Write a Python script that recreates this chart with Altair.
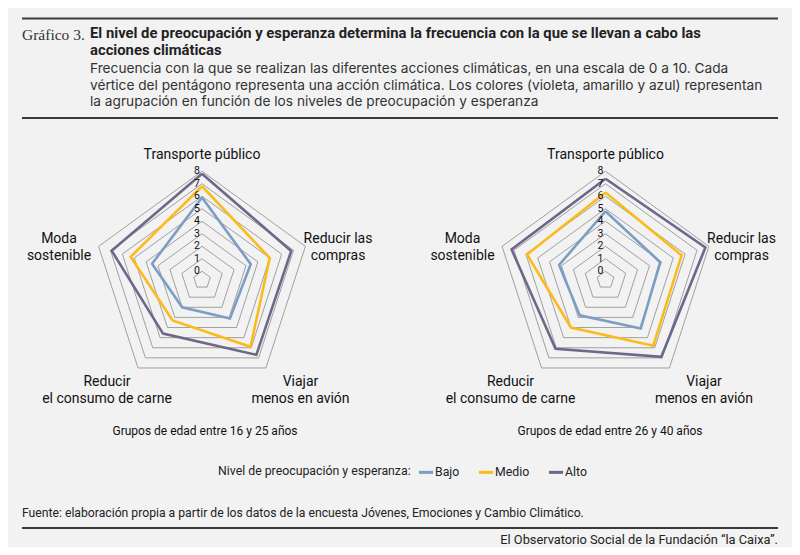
import math
import altair as alt
import pandas as pd

# ---------------- data ----------------
acciones = ["Transporte público", "Reducir las compras", "Viajar menos en avión",
            "Reducir el consumo de carne", "Moda sostenible"]
etiquetas = ["Transporte público", "Reducir las\ncompras", "Viajar\nmenos en avión",
             "Reducir\nel consumo de carne", "Moda\nsostenible"]
niveles = ["Bajo", "Medio", "Alto"]
paneles = ["Grupos de edad entre 16 y 25 años", "Grupos de edad entre 26 y 40 años"]

bajo_16_25 = [5.9, 3.4, 3.1, 2.0, 3.5]
medio_16_25 = [6.8, 5.0, 5.9, 3.3, 5.3]
alto_16_25 = [7.8, 6.8, 6.7, 4.6, 6.9]

bajo_26_40 = [4.8, 3.9, 4.1, 2.8, 3.2]
medio_26_40 = [6.3, 5.7, 5.8, 4.0, 5.9]
alto_26_40 = [7.4, 7.7, 6.9, 6.1, 7.2]

ticks = [0, 1, 2, 3, 4, 5, 6, 7, 8]

colores = ["#7d9dc4", "#fcbb1c", "#6d6889"]

titulo = ["El nivel de preocupación y esperanza determina la frecuencia con la que se llevan a cabo las",
          "acciones climáticas"]
subtitulo = ["Frecuencia con la que se realizan las diferentes acciones climáticas, en una escala de 0 a 10. Cada",
             "vértice del pentágono representa una acción climática. Los colores (violeta, amarillo y azul) representan",
             "la agrupación en función de los niveles de preocupación y esperanza"]
fuente = "Fuente: elaboración propia a partir de los datos de la encuesta Jóvenes, Emociones y Cambio Climático."
firma = "El Observatorio Social de la Fundación “la Caixa”."

# ---------------- tables ----------------
series = {
    0: {"Bajo": bajo_16_25, "Medio": medio_16_25, "Alto": alto_16_25},
    1: {"Bajo": bajo_26_40, "Medio": medio_26_40, "Alto": alto_26_40},
}
rows = []
for p in (0, 1):
    for n in niveles:
        vals = series[p][n]
        for k in range(6):
            rows.append({"p": p, "nivel": n, "k": k, "v": vals[k % 5]})
df_series = pd.DataFrame(rows)

df_rings = pd.DataFrame([{"p": p, "t": t, "k": k, "v": t}
                         for p in (0, 1) for t in ticks for k in range(6)])
df_ticks = pd.DataFrame([{"p": p, "v": t, "k": 0, "lab": str(t)} for p in (0, 1) for t in ticks])
df_labels = pd.DataFrame([{"p": p, "k": k, "lab": etiquetas[k], "accion": acciones[k],
                           "nl": etiquetas[k].count("\n") + 1}
                          for p in (0, 1) for k in range(5)])
df_panels = pd.DataFrame([{"p": p, "lab": paneles[p]} for p in (0, 1)])

# ---------------- geometry (layout) ----------------
W, H = 784, 539
xs = alt.Scale(domain=[8, 8 + W], nice=False, zero=False)
ys = alt.Scale(domain=[8, 8 + H], nice=False, zero=False, reverse=True)
X = alt.X("x:Q", scale=xs, axis=None)
Y = alt.Y("y:Q", scale=ys, axis=None)

CY = 280
UNIT = 12.5
OFF = 0.7
CX = "(datum.p == 0 ? 202 : 605.5)"


def polar(chart, rexpr):
    return chart.transform_calculate(
        ang="datum.k * 2 * PI / 5",
        cx=CX,
        r=rexpr,
    ).transform_calculate(
        x="datum.cx + datum.r * sin(datum.ang)",
        y=f"{CY} - datum.r * cos(datum.ang)",
    )


rvalue = f"(datum.v + {OFF}) * {UNIT}"

rings = polar(alt.Chart(df_rings), rvalue).mark_line(
    stroke="#8a8a8a", strokeWidth=0.8, strokeJoin="miter"
).encode(x=X, y=Y, detail=["p:N", "t:N"], order="k:Q")

lines = polar(alt.Chart(df_series), rvalue).mark_line(
    strokeWidth=2.6, strokeJoin="miter"
).encode(
    x=X, y=Y,
    color=alt.Color("nivel:N", scale=alt.Scale(domain=niveles, range=colores),
                    legend=alt.Legend(
                        title="Nivel de preocupación y esperanza:",
                        orient="none", legendX=210, legendY=455,
                        direction="horizontal", titleOrient="left", titleLimit=600,
                        symbolType="stroke", symbolStrokeWidth=3, symbolSize=200,
                        labelFont="Roboto", labelFontSize=12.3, labelColor="#222",
                        titleFont="Roboto", titleFontSize=12.3, titleFontWeight="normal",
                        titleColor="#222", titlePadding=6, labelOffset=0,
                        columnPadding=12, titleBaseline="middle", titleAnchor="middle")),
    detail="p:N",
    order="k:Q",
)

tick_text = polar(alt.Chart(df_ticks), rvalue).mark_text(
    align="right", baseline="middle", dx=-2, fontSize=10.5, font="Roboto", color="#111"
).encode(x=X, y=Y, text="lab:N")

axis_text = alt.Chart(df_labels).transform_calculate(
    x=f"{CX} + [0, 136, 98.5, -95, -143][datum.k]",
    y=f"{CY} + [-127, -34, 109, 109, -34][datum.k] - (datum.nl - 1) * 8.5 + 1.5",
).mark_text(
    align="center", baseline="middle", fontSize=14, font="Roboto", color="#111",
    lineBreak="\n", lineHeight=17
).encode(x=X, y=Y, text="lab:N")

panel_text = alt.Chart(df_panels).transform_calculate(
    x="datum.p == 0 ? 205 : 610", y="431"
).mark_text(align="center", baseline="middle", fontSize=12, font="Roboto", color="#111").encode(
    x=X, y=Y, text="lab:N")


def txt(s, x, y, **kw):
    base = dict(align="left", baseline="middle", font="Roboto", fontSize=15, color="#333")
    base.update(kw)
    return alt.Chart(alt.Data(values=[{}])).mark_text(text=s, **base).encode(
        x=alt.value(x - 8), y=alt.value(y - 8))


def rule(y, w=2):
    return alt.Chart(alt.Data(values=[{}])).mark_rule(color="#3a3a3a", strokeWidth=w).encode(
        x=alt.value(22 - 8), x2=alt.value(778 - 8), y=alt.value(y - 8))


header = [
    rule(18.5), rule(118), rule(528),
    txt("Gráfico 3.", 22, 35, font="Liberation Serif", fontSize=15.5, color="#333"),
    txt(titulo[0], 90, 33.5, fontWeight="bold", fontSize=14.8, color="#222"),
    txt(titulo[1], 90, 51, fontWeight="bold", fontSize=14.8, color="#222"),
    txt(subtitulo[0], 90, 68.5, font="Inter", fontSize=13.7),
    txt(subtitulo[1], 90, 85.5, font="Inter", fontSize=13.7),
    txt(subtitulo[2], 90, 101.5, font="Inter", fontSize=13.7),
    txt(fuente, 22, 513, fontSize=12.2, color="#222"),
    txt(firma, 778, 540, align="right", fontSize=12.8, color="#222"),
]

chart = alt.layer(
    rings, lines, tick_text, axis_text, panel_text, *header
).properties(
    width=W, height=H, padding=0, autosize=alt.AutoSizeParams(type="none")
).configure(background="#f2f2f2").configure_view(stroke=None)

chart.save("out.html", embed_options={"renderer": "svg", "actions": False})
